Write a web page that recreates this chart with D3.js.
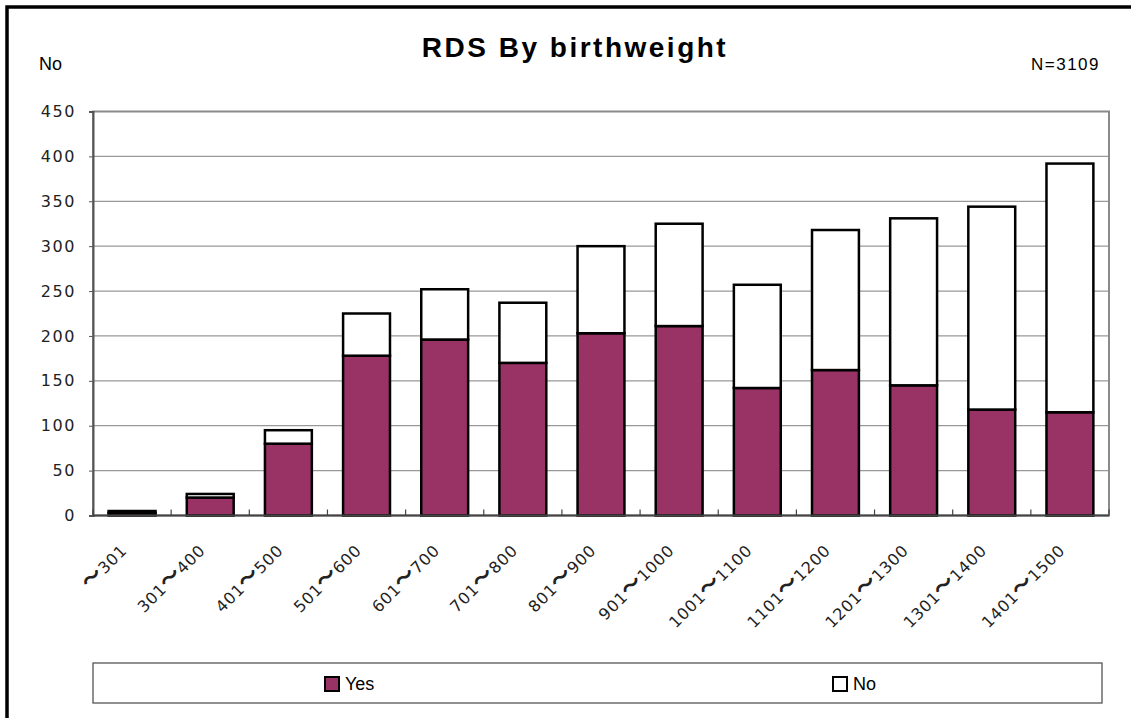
<!DOCTYPE html>
<html>
<head>
<meta charset="utf-8">
<script src="https://cdn.jsdelivr.net/npm/d3@7"></script>
<style>
  body { margin: 0; background: #fff; }
  .num { font-family: "DejaVu Sans", "Noto Sans CJK JP", sans-serif; font-size: 16px; letter-spacing: 1.6px; fill: #222; }
  .xlab { letter-spacing: 0.8px; }
  .xlab .wave { font-family: "Noto Sans CJK JP", sans-serif; font-size: 21px; font-weight: bold; }
  .txt { font-family: "Liberation Sans", Arial, sans-serif; fill: #000; }
</style>
</head>
<body>
<div id="chart"></div>
<script>
// data
const categories = ['〜301', '301〜400', '401〜500', '501〜600', '601〜700', '701〜800', '801〜900',
  '901〜1000', '1001〜1100', '1101〜1200', '1201〜1300', '1301〜1400', '1401〜1500'];
const yesValues = [3, 20, 80, 178, 196, 170, 203, 211, 142, 162, 145, 118, 115];
const noValues = [2, 4, 15, 47, 56, 67, 97, 114, 115, 156, 186, 226, 277];
const yTicks = [0, 50, 100, 150, 200, 250, 300, 350, 400, 450];
const seriesNames = ['Yes', 'No'];
const seriesColors = ['#993366', '#ffffff'];

const width = 1131, height = 718;
const plot = { left: 93, top: 111.5, right: 1109, bottom: 515.5 };

const svg = d3.select('#chart')
    .append('svg')
    .attr('width', width)
    .attr('height', height);

// outer frame (only top/left edges show)
svg.append('rect')
    .attr('x', 7).attr('y', 7)
    .attr('width', 1300).attr('height', 900)
    .attr('fill', 'none')
    .attr('stroke', '#000')
    .attr('stroke-width', 3.5);

const x = d3.scaleBand()
    .domain(categories)
    .range([plot.left, plot.right])
    .paddingInner(0.4)
    .paddingOuter(0.2);

const y = d3.scaleLinear()
    .domain([0, 450])
    .range([plot.bottom, plot.top]);

// gridlines
svg.append('g')
    .selectAll('line')
    .data(yTicks.filter(d => d > 0 && d < 450))
    .enter()
    .append('line')
    .attr('x1', plot.left).attr('x2', plot.right)
    .attr('y1', d => y(d)).attr('y2', d => y(d))
    .attr('stroke', '#999')
    .attr('stroke-width', 1.2);

// plot border
svg.append('rect')
    .attr('x', plot.left).attr('y', plot.top)
    .attr('width', plot.right - plot.left)
    .attr('height', plot.bottom - plot.top)
    .attr('fill', 'none')
    .attr('stroke', '#8a8a8a')
    .attr('stroke-width', 2);

// stacked bars
const rows = categories.map((c, i) => ({ cat: c, Yes: yesValues[i], No: noValues[i] }));
const stacked = d3.stack().keys(seriesNames)(rows);

svg.append('g')
    .selectAll('g')
    .data(stacked)
    .enter()
    .append('g')
    .attr('fill', (d, i) => seriesColors[i])
    .selectAll('rect')
    .data(d => d)
    .enter()
    .append('rect')
    .attr('x', d => x(d.data.cat))
    .attr('y', d => y(d[1]))
    .attr('width', x.bandwidth())
    .attr('height', d => y(d[0]) - y(d[1]))
    .attr('stroke', '#000')
    .attr('stroke-width', 2.5);

// y axis
const yAxis = svg.append('g')
    .attr('transform', `translate(${plot.left},0)`)
    .call(d3.axisLeft(y).tickValues(yTicks).tickSize(4).tickPadding(13));
yAxis.select('.domain').attr('stroke', '#555').attr('stroke-width', 2);
yAxis.selectAll('.tick line').attr('stroke', '#555');
yAxis.selectAll('.tick text').attr('class', 'num').attr('fill', null);

// x axis line and ticks at category boundaries
svg.append('line')
    .attr('x1', plot.left).attr('x2', plot.right)
    .attr('y1', plot.bottom).attr('y2', plot.bottom)
    .attr('stroke', '#444')
    .attr('stroke-width', 2);

const bounds = categories.map(c => x(c) + x.bandwidth() / 2 - x.step() / 2);
bounds.push(plot.right);
svg.append('g')
    .selectAll('line')
    .data(bounds)
    .enter()
    .append('line')
    .attr('x1', d => d).attr('x2', d => d)
    .attr('y1', plot.bottom).attr('y2', plot.bottom - 6)
    .attr('stroke', '#444')
    .attr('stroke-width', 1.2);

// x labels, rotated; the wave dash gets the CJK font
svg.append('g')
    .selectAll('text')
    .data(categories)
    .enter()
    .append('text')
    .attr('class', 'num xlab')
    .attr('text-anchor', 'end')
    .attr('transform', d => `translate(${x(d) + x.bandwidth() / 2 - 4},${plot.bottom + 36}) rotate(-45)`)
    .each(function(d) {
        const parts = d.split('〜');
        const t = d3.select(this);
        t.append('tspan').text(parts[0]);
        t.append('tspan').attr('class', 'wave').text('〜');
        t.append('tspan').text(parts[1]);
    });

// titles
svg.append('text')
    .attr('class', 'txt')
    .attr('x', 575).attr('y', 57)
    .attr('text-anchor', 'middle')
    .attr('font-size', 28)
    .attr('font-weight', 'bold')
    .attr('letter-spacing', 2.5)
    .text('RDS By birthweight');

svg.append('text')
    .attr('class', 'txt')
    .attr('x', 39).attr('y', 70)
    .attr('font-size', 18)
    .text('No');

svg.append('text')
    .attr('class', 'txt')
    .attr('x', 1100).attr('y', 70)
    .attr('text-anchor', 'end')
    .attr('font-size', 17)
    .attr('letter-spacing', 1.5)
    .text('N=3109');

// legend
const legend = svg.append('g');
legend.append('rect')
    .attr('x', 93).attr('y', 663)
    .attr('width', 1009).attr('height', 40)
    .attr('fill', '#fff')
    .attr('stroke', '#555')
    .attr('stroke-width', 1.3);

const legendX = [325, 833];
const items = legend.selectAll('.item')
    .data(seriesNames)
    .enter()
    .append('g')
    .attr('transform', (d, i) => `translate(${legendX[i]},677)`);

items.append('rect')
    .attr('width', 14).attr('height', 14)
    .attr('fill', (d, i) => seriesColors[i])
    .attr('stroke', '#000')
    .attr('stroke-width', 2);

items.append('text')
    .attr('class', 'txt')
    .attr('x', 20).attr('y', 13)
    .attr('font-size', 18)
    .text(d => d);
</script>
</body>
</html>
